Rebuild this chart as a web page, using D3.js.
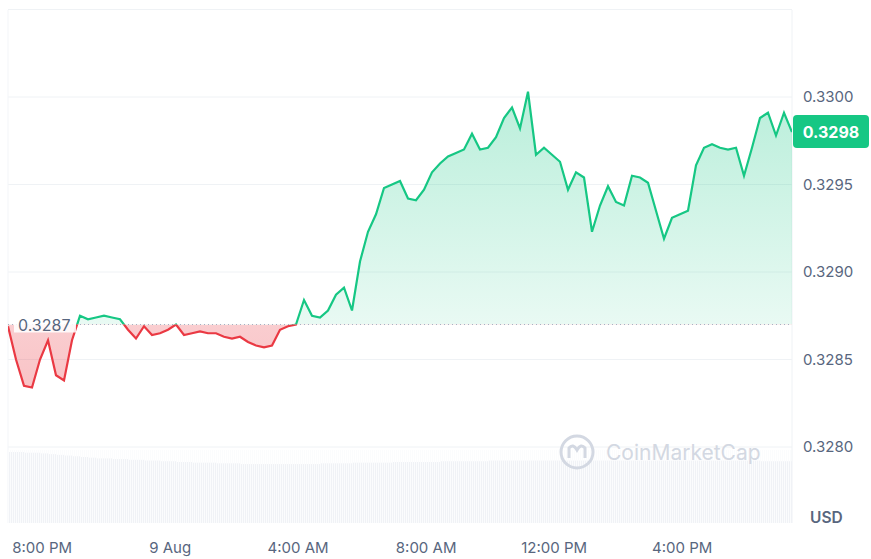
<!DOCTYPE html>
<html lang="en">
<head>
<meta charset="utf-8">
<title>Price chart</title>
<script src="https://d3js.org/d3.v7.min.js"></script>
<style>
  body { margin: 0; background: #fff; }
  text { font-family: Inter, "Noto Sans", sans-serif; }
</style>
</head>
<body>
<svg id="chart" width="871" height="559"></svg>
<script>
// price every 15 minutes, starting 18:56 (hours offset 0 = 8 Aug 18:56)
var prices = [0.32869,0.32850,0.32835,0.32834,0.32850,0.32861,0.32841,0.32838,0.32861,0.32875,
  0.32873,0.32874,0.32875,0.32874,0.32873,0.32867,0.32862,0.32869,0.32864,0.32865,
  0.32867,0.32870,0.32864,0.32865,0.32866,0.32865,0.32865,0.32863,0.32862,0.32863,
  0.32860,0.32858,0.32857,0.32858,0.32867,0.32869,0.32870,0.32884,0.32875,0.32874,
  0.32878,0.32887,0.32891,0.32878,0.32906,0.32923,0.32933,0.32948,0.32950,0.32952,
  0.32942,0.32941,0.32947,0.32957,0.32962,0.32966,0.32968,0.32970,0.32979,0.32970,
  0.32971,0.32977,0.32988,0.32994,0.32982,0.33003,0.32967,0.32971,0.32967,0.32963,
  0.32947,0.32957,0.32954,0.32923,0.32938,0.32949,0.32940,0.32938,0.32955,0.32954,
  0.32951,0.32935,0.32919,0.32931,0.32933,0.32935,0.32961,0.32971,0.32973,0.32971,
  0.32970,0.32971,0.32955,0.32971,0.32988,0.32991,0.32978,0.32991,0.32980];
var volumes = [100,100,99,99,98,97,96,95,94,93,92,91,91,90,90,89,89,88,88,87,
  87,86,86,85,85,85,84,84,84,83,83,83,83,83,83,83,83,83,83,84,
  84,84,84,85,85,85,85,85,86,86,86,86,86,86,87,87,87,87,87,87,
  88,88,88,88,88,88,88,88,88,88,88,88,88,88,88,88,88,88,88,88,
  88,88,88,88,88,88,88,88,88,88,88,88,88,88,87,87,87,87,87];
var refPrice = 0.3287;
var lastPrice = 0.3298;
var yTicks = [0.3280, 0.3285, 0.3290, 0.3295, 0.3300];
var xTicks = [{h: 1.0667, label: "8:00 PM"}, {h: 5.0667, label: "9 Aug"}, {h: 9.0667, label: "4:00 AM"},
  {h: 13.0667, label: "8:00 AM"}, {h: 17.0667, label: "12:00 PM"}, {h: 21.0667, label: "4:00 PM"}];

var svg = d3.select("#chart");
var pLeft = 8, pRight = 792, pTop = 10, pBottom = 523;
var x = d3.scaleLinear().domain([0, 24.5]).range([pLeft, pRight]);
var y = d3.scaleLinear().domain([0.3280, 0.3300]).range([447, 97]);
var yv = d3.scaleLinear().domain([0, 100]).range([pBottom, 452]);
var data = prices.map(function (p, i) { return {t: i * 0.25, p: p}; });

var defs = svg.append("defs");
var g1 = defs.append("linearGradient").attr("id", "gUp").attr("x1", 0).attr("x2", 0).attr("y1", 0).attr("y2", 1);
g1.append("stop").attr("offset", "0%").attr("stop-color", "#16c784").attr("stop-opacity", 0.3);
g1.append("stop").attr("offset", "100%").attr("stop-color", "#16c784").attr("stop-opacity", 0.04);
var g2 = defs.append("linearGradient").attr("id", "gDn").attr("x1", 0).attr("x2", 0).attr("y1", 0).attr("y2", 1);
g2.append("stop").attr("offset", "0%").attr("stop-color", "#ea3943").attr("stop-opacity", 0.08);
g2.append("stop").attr("offset", "100%").attr("stop-color", "#ea3943").attr("stop-opacity", 0.3);
defs.append("clipPath").attr("id", "cUp").append("rect")
  .attr("x", pLeft).attr("y", pTop).attr("width", pRight - pLeft).attr("height", y(refPrice) - pTop);
defs.append("clipPath").attr("id", "cDn").append("rect")
  .attr("x", pLeft).attr("y", y(refPrice)).attr("width", pRight - pLeft).attr("height", pBottom - y(refPrice));
defs.append("clipPath").attr("id", "cAll").append("rect")
  .attr("x", pLeft).attr("y", pTop).attr("width", pRight - pLeft).attr("height", pBottom - pTop);

// grid
svg.selectAll(".grid").data(yTicks.concat([0.3305])).enter().append("line")
  .attr("x1", pLeft).attr("x2", pRight).attr("y1", function (d) { return y(d); }).attr("y2", function (d) { return y(d); })
  .attr("stroke", "#eff2f5");
svg.append("line").attr("x1", pRight).attr("x2", pRight).attr("y1", pTop).attr("y2", pBottom).attr("stroke", "#eff2f5");
svg.append("line").attr("x1", pLeft).attr("x2", pLeft).attr("y1", pTop).attr("y2", pBottom).attr("stroke", "#f3f5f8");

// volume
var vg = svg.append("g").attr("clip-path", "url(#cAll)");
vg.selectAll(".vol").data(volumes).enter().append("rect")
  .attr("x", function (d, i) { return x(i * 0.25); }).attr("width", 8.1)
  .attr("y", function (d) { return yv(d); }).attr("height", function (d) { return pBottom - yv(d); })
  .attr("fill", "#f0f2f6");
vg.selectAll(".volsep").data(d3.range(0, 24.5, 0.0625)).enter().append("line")
  .attr("x1", function (d) { return Math.round(x(d)) + 0.5; }).attr("x2", function (d) { return Math.round(x(d)) + 0.5; })
  .attr("y1", 450).attr("y2", pBottom).attr("stroke", "#fbfcfd").attr("stroke-width", 1);

// watermark
var wm = svg.append("g").attr("transform", "translate(577,452)");
wm.append("circle").attr("r", 16).attr("fill", "none").attr("stroke", "#d3d8e2").attr("stroke-width", 3);
wm.append("path").attr("d", "M-8,6 L-8,-4 Q-4,-9 0,-2 Q4,-9 8,-4 L8,6").attr("fill", "none")
  .attr("stroke", "#d3d8e2").attr("stroke-width", 3);
svg.append("text").attr("x", 606).attr("y", 460).attr("font-size", 21).attr("fill", "#d3d8e2")
  .text("CoinMarketCap");

// areas and lines
var area = d3.area().x(function (d) { return x(d.t); }).y0(y(refPrice)).y1(function (d) { return y(d.p); });
var line = d3.line().x(function (d) { return x(d.t); }).y(function (d) { return y(d.p); });
svg.append("path").datum(data).attr("d", area).attr("fill", "url(#gUp)").attr("clip-path", "url(#cUp)");
svg.append("path").datum(data).attr("d", area).attr("fill", "url(#gDn)").attr("clip-path", "url(#cDn)");
svg.append("line").attr("x1", pLeft).attr("x2", pRight).attr("y1", y(refPrice)).attr("y2", y(refPrice))
  .attr("stroke", "#a6b0c3").attr("stroke-dasharray", "1,3");
svg.append("path").datum(data).attr("d", line).attr("fill", "none").attr("stroke", "#16c784")
  .attr("stroke-width", 2.2).attr("clip-path", "url(#cUp)");
svg.append("path").datum(data).attr("d", line).attr("fill", "none").attr("stroke", "#ea3943")
  .attr("stroke-width", 2.2).attr("clip-path", "url(#cDn)");

// reference label
svg.append("rect").attr("x", 14).attr("y", y(refPrice) - 12).attr("width", 62).attr("height", 20)
  .attr("fill", "#fff").attr("opacity", 0.85);
svg.append("text").attr("x", 18).attr("y", y(refPrice) + 6).attr("font-size", 16).attr("fill", "#58667e")
  .text(refPrice.toFixed(4));

// y axis labels
svg.selectAll(".yl").data(yTicks).enter().append("text")
  .attr("x", 803).attr("y", function (d) { return y(d) + 5; }).attr("font-size", 15).attr("fill", "#58667e")
  .text(function (d) { return d.toFixed(4); });
svg.append("text").attr("x", 810).attr("y", 523).attr("font-size", 15.5).attr("font-weight", 600)
  .attr("fill", "#58667e").text("USD");

// last price box
svg.append("rect").attr("x", 793).attr("y", y(lastPrice) - 17).attr("width", 76).attr("height", 33)
  .attr("rx", 4).attr("fill", "#16c784");
svg.append("text").attr("x", 831).attr("y", y(lastPrice) + 6).attr("text-anchor", "middle")
  .attr("font-size", 16).attr("font-weight", 700).attr("fill", "#fff").text(lastPrice.toFixed(4));

// x axis labels
svg.selectAll(".xl").data(xTicks).enter().append("text")
  .attr("x", function (d) { return x(d.h); }).attr("y", 553).attr("text-anchor", "middle")
  .attr("font-size", 15).attr("fill", "#58667e").text(function (d) { return d.label; });
</script>
</body>
</html>
